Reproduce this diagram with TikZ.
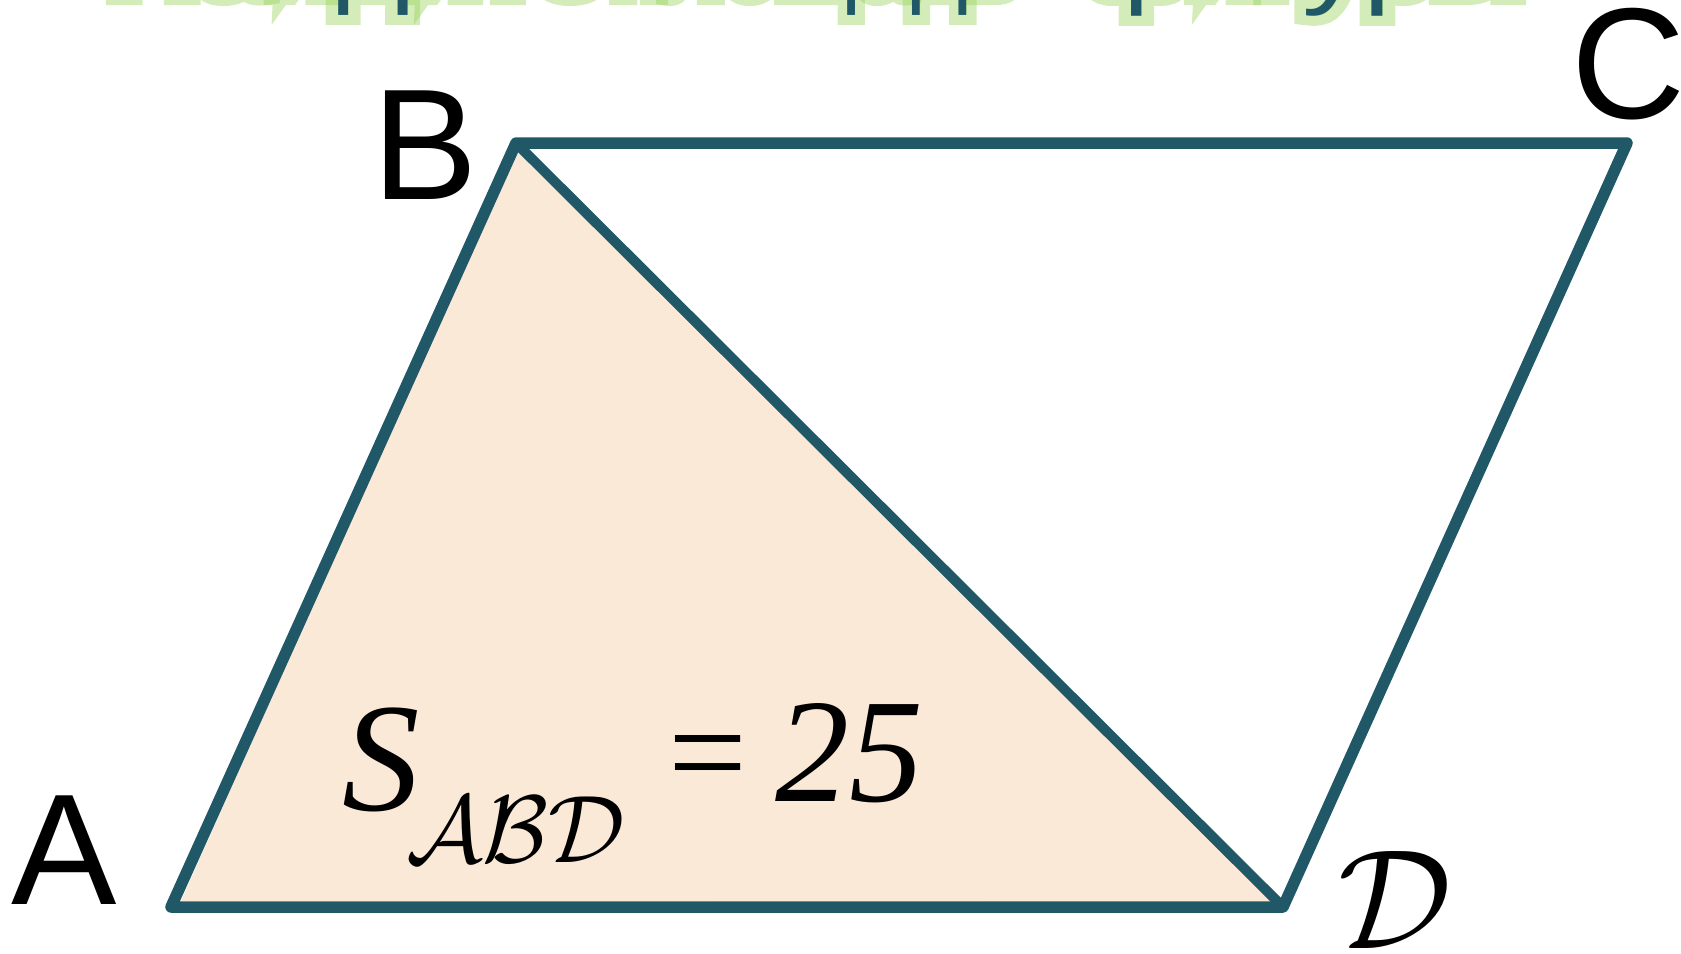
\documentclass[tikz,border=0pt]{standalone}
\usepackage{fontspec}
\usepackage{graphicx}
\DeclareFontFamily{OMS}{cmsy}{\skewchar\font48}
\DeclareFontShape{OMS}{cmsy}{m}{n}{<-6>cmsy5<6-8>cmsy7<8->cmsy10}{}
\newfontfamily\sansA{Liberation Sans}
\newfontfamily\sansGlow[FakeBold=20]{Liberation Sans}
\newfontfamily\serifT{Liberation Serif}
\definecolor{edge}{RGB}{32,88,103}
\definecolor{peach}{RGB}{251,233,216}
\definecolor{glowgreen}{RGB}{146,208,80}
\tikzset{
  side/.style={draw=edge, line width=11.5pt, line join=round, line cap=round},
  diag/.style={draw=edge, line width=10pt, line cap=round},
  vlabel/.style={inner sep=0pt, anchor=base, text=black, font=\sansA\fontsize{158}{160}\selectfont},
  formula/.style={inner sep=0pt, anchor=base, text=black},
  titletxt/.style={inner sep=0pt, anchor=base west, text=edge, font=\sansA\fontsize{100}{100}\selectfont},
  titleglow/.style={inner sep=0pt, anchor=base west, text=glowgreen, text opacity=0.4, font=\sansGlow\fontsize{100}{100}\selectfont}
}
\begin{document}
\begin{tikzpicture}[x=1pt,y=-1pt]
\useasboundingbox (0,0) rectangle (1681,953);
% clipped title, only its lower edge shows
\begin{scope}
\clip (0,0) rectangle (1681,953);
\node[titleglow] (g1) at (108,-5) {\resizebox{496pt}{\height}{Найдите}};
\node[titleglow] (g2) at (612,-5) {\resizebox{407pt}{\height}{площадь}};
\node[titleglow] (g3) at (1085,-5) {\resizebox{437pt}{\height}{фигуры}};
\node[titletxt] (t1) at (108,-5) {\resizebox{496pt}{\height}{Найдите}};
\node[titletxt] (t2) at (612,-5) {\resizebox{407pt}{\height}{площадь}};
\node[titletxt] (t3) at (1085,-5) {\resizebox{437pt}{\height}{фигуры}};
\end{scope}
% vertices
\coordinate (A) at (171,907);
\coordinate (B) at (516,143);
\coordinate (C) at (1627,143);
\coordinate (D) at (1283,907);
% shaded triangle ABD
\fill[peach] ([shift={(10,-6)}]A) -- ([shift={(0,5)}]B) -- ([shift={(-11,-5)}]D) -- cycle;
% parallelogram and diagonal
\draw[side] (A) -- (B) -- (C) -- (D) -- cycle;
\draw[diag] (B) -- (D);
% vertex labels
\node[vlabel] (la) at (64,904) {A};
\node[vlabel] (lb) at (425,199) {B};
\node[vlabel] (lc) at (1629,118) {C};
\node[formula, font=\fontsize{142}{142}\selectfont] (ld) at (1395,948) {$\mathcal{D}$};
% area formula
\node[formula, font=\serifT\itshape\fontsize{155}{160}\selectfont] (fs) at (381,810) {S};
\node[formula, font=\fontsize{96}{100}\selectfont] (fsub) at (516,862) {$\mathcal{ABD}$};
\node[inner sep=0pt, anchor=north, font=\serifT\fontsize{140}{140}\selectfont] (feq) at (708,735) {=};
\node[formula, font=\serifT\itshape\fontsize{148}{150}\selectfont] (fn) at (849,801) {25};
\end{tikzpicture}
\end{document}
